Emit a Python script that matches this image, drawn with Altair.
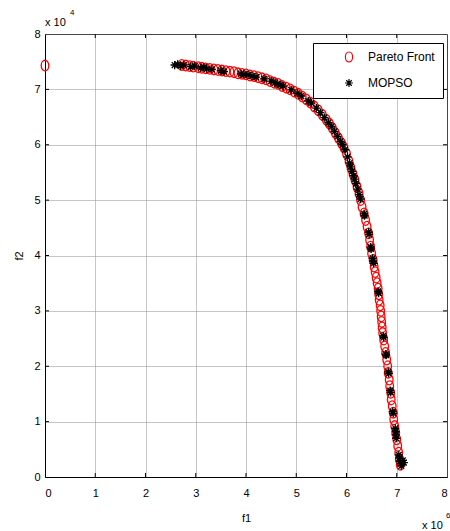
import altair as alt
import pandas as pd

# ---- data (f1 in units of 1e6, f2 in units of 1e4) ----
pf_f1 = [0.00,
         2.72, 2.80, 2.88, 2.95, 3.05, 3.12, 3.20, 3.28, 3.36, 3.44, 3.52, 3.60, 3.68, 3.76,
         3.84, 3.92, 4.00, 4.08, 4.16, 4.24, 4.32, 4.40, 4.48, 4.56, 4.64, 4.72, 4.80, 4.88,
         4.96, 5.04, 5.12, 5.20, 5.28, 5.36, 5.44, 5.52, 5.60, 5.66, 5.72, 5.78, 5.84, 5.90,
         5.95, 6.00, 6.05, 6.09, 6.13, 6.17, 6.21, 6.25,
         6.28, 6.31, 6.35, 6.38, 6.41, 6.44, 6.46, 6.48, 6.50, 6.53, 6.55, 6.57, 6.59, 6.61,
         6.63, 6.64, 6.65, 6.67, 6.68, 6.69, 6.70, 6.71, 6.72, 6.74, 6.76, 6.78, 6.80, 6.82,
         6.83, 6.85, 6.86, 6.88, 6.89, 6.91, 6.93, 6.94, 6.96, 6.98, 7.00, 7.02, 7.04, 7.05, 7.07]
pf_f2 = [7.43,
         7.44, 7.43, 7.42, 7.41, 7.40, 7.39, 7.38, 7.37, 7.36, 7.35, 7.34, 7.33, 7.32, 7.31,
         7.29, 7.28, 7.27, 7.25, 7.24, 7.22, 7.20, 7.18, 7.15, 7.12, 7.10, 7.06, 7.03, 7.00,
         6.96, 6.92, 6.87, 6.82, 6.76, 6.69, 6.62, 6.54, 6.45, 6.38, 6.30, 6.21, 6.12, 6.03,
         5.95, 5.84, 5.70, 5.58, 5.47, 5.36, 5.24, 5.12,
         5.00, 4.88, 4.76, 4.64, 4.52, 4.40, 4.28, 4.16, 4.04, 3.92, 3.80, 3.70, 3.60, 3.50,
         3.40, 3.30, 3.20, 3.10, 3.00, 2.90, 2.80, 2.70, 2.60, 2.48, 2.36, 2.24, 2.12, 2.00,
         1.88, 1.76, 1.64, 1.52, 1.40, 1.28, 1.16, 1.04, 0.92, 0.80, 0.68, 0.56, 0.44, 0.32, 0.22]

mo_f1 = [2.58, 2.64, 2.70, 2.76, 2.90, 2.98, 3.10, 3.16, 3.22, 3.32, 3.50, 3.56, 3.90, 3.96,
         4.04, 4.12, 4.20, 4.36, 4.50, 4.58, 4.62, 4.68, 4.74, 4.90, 5.02, 5.10, 5.24, 5.30,
         5.40, 5.48, 5.56, 5.64, 5.70, 5.76, 5.82, 5.88, 5.92, 5.97, 6.02, 6.06, 6.08, 6.11,
         6.14, 6.16, 6.19, 6.22, 6.25, 6.28,
         6.35, 6.36, 6.44, 6.45, 6.48, 6.49, 6.52, 6.53, 6.54, 6.63, 6.64, 6.73, 6.74, 6.78,
         6.79, 6.83, 6.84, 6.87, 6.88, 6.92, 6.93, 6.97, 6.98, 6.98, 6.99, 7.04, 7.05, 7.06,
         7.08, 7.09, 7.12, 7.14]
mo_f2 = [7.44, 7.45, 7.43, 7.44, 7.41, 7.42, 7.39, 7.40, 7.37, 7.36, 7.34, 7.32, 7.28, 7.27,
         7.26, 7.24, 7.22, 7.19, 7.15, 7.12, 7.10, 7.08, 7.06, 6.99, 6.93, 6.88, 6.79, 6.75,
         6.66, 6.58, 6.49, 6.40, 6.33, 6.24, 6.15, 6.06, 6.00, 5.91, 5.78, 5.67, 5.60, 5.52,
         5.44, 5.38, 5.30, 5.20, 5.10, 5.02,
         4.75, 4.72, 4.42, 4.38, 4.15, 4.12, 3.95, 3.90, 3.86, 3.35, 3.32, 2.55, 2.52, 2.22,
         2.20, 1.90, 1.87, 1.56, 1.53, 1.18, 1.15, 0.88, 0.82, 0.76, 0.70, 0.40, 0.34, 0.28,
         0.24, 0.20, 0.30, 0.26]

x_ticks = [0, 1, 2, 3, 4, 5, 6, 7, 8]
y_ticks = [0, 1, 2, 3, 4, 5, 6, 7, 8]
series_names = ["Pareto Front", "MOPSO"]
series_colors = ["#ff0000", "#000000"]

# ---- table ----
df = pd.concat([
    pd.DataFrame({"f1": pf_f1, "f2": pf_f2, "series": series_names[0], "z": 0}),
    pd.DataFrame({"f1": mo_f1, "f2": mo_f2, "series": series_names[1], "z": 1}),
], ignore_index=True)
df["z"] = df["z"] * 1000 + df.index

ELLIPSE = "M0,-1A0.72,1 0 1,1 0,1A0.72,1 0 1,1 0,-1Z"
STAR = "M-0.78,0L0.78,0M0,-0.78L0,0.78M-0.55,-0.55L0.55,0.55M-0.55,0.55L0.55,-0.55"

W, H = 402, 443
FONT = "Liberation Sans"

xs = alt.Scale(domain=[0, 8], nice=False, zero=False)
ys = alt.Scale(domain=[0, 8], nice=False, zero=False)

legend = alt.Legend(
    title=None, orient="none", legendX=268, legendY=9,
    strokeColor="black", fillColor="white", padding=8,
    symbolOffset=22, labelOffset=13, rowPadding=11,
    labelFont=FONT, labelFontSize=12, labelColor="black",
    symbolSize=100, symbolStrokeWidth=1.2, labelLimit=200,
)

points = alt.Chart(df).mark_point(filled=False, size=112, strokeWidth=1.3, opacity=1).encode(
    x=alt.X("f1:Q", scale=xs, axis=alt.Axis(values=x_ticks, title="f1", format="d")),
    y=alt.Y("f2:Q", scale=ys, axis=alt.Axis(values=y_ticks, title="f2", format="d")),
    color=alt.Color("series:N", scale=alt.Scale(domain=series_names, range=series_colors), legend=legend),
    shape=alt.Shape("series:N", scale=alt.Scale(domain=series_names, range=[ELLIPSE, STAR]), legend=legend),
    order=alt.Order("z:Q"),
)

xt = pd.DataFrame({"v": x_ticks[1:-1]})
yt = pd.DataFrame({"v": y_ticks[1:-1]})
tick_style = dict(color="black", strokeWidth=1)
ticks_bottom = alt.Chart(xt).mark_rule(**tick_style).encode(x=alt.X("v:Q", scale=xs), y=alt.value(H), y2=alt.value(H - 4))
ticks_top = alt.Chart(xt).mark_rule(**tick_style).encode(x=alt.X("v:Q", scale=xs), y=alt.value(0), y2=alt.value(4))
ticks_left = alt.Chart(yt).mark_rule(**tick_style).encode(y=alt.Y("v:Q", scale=ys), x=alt.value(0), x2=alt.value(4))
ticks_right = alt.Chart(yt).mark_rule(**tick_style).encode(y=alt.Y("v:Q", scale=ys), x=alt.value(W), x2=alt.value(W - 4))

one = pd.DataFrame({"t": ["x 10"]})
txt = dict(font=FONT, color="black")
mult_y = alt.Chart(one).mark_text(fontSize=11, align="left", baseline="middle", **txt).encode(
    text="t:N", x=alt.value(0), y=alt.value(-11))
exp_y = alt.Chart(pd.DataFrame({"t": ["4"]})).mark_text(fontSize=8, align="left", baseline="middle", **txt).encode(
    text="t:N", x=alt.value(25), y=alt.value(-21))
mult_x = alt.Chart(one).mark_text(fontSize=11, align="left", baseline="middle", **txt).encode(
    text="t:N", x=alt.value(377), y=alt.value(49 + H))
exp_x = alt.Chart(pd.DataFrame({"t": ["6"]})).mark_text(fontSize=8, align="left", baseline="middle", **txt).encode(
    text="t:N", x=alt.value(401), y=alt.value(39 + H))

chart = alt.layer(
    points, ticks_bottom, ticks_top, ticks_left, ticks_right, mult_y, exp_y, mult_x, exp_x
).properties(
    width=W, height=H,
    autosize=alt.AutoSizeParams(type="none"),
    padding={"left": 45, "top": 34, "right": 3, "bottom": 54},
    background="white",
).configure_view(
    stroke="black", strokeWidth=1
).configure_axis(
    grid=True, gridDash=[1, 1], gridColor="#8c8c8c", gridWidth=1,
    domainColor="black", domainWidth=1, ticks=False,
    labelFont=FONT, labelFontSize=11, labelColor="black",
    titleFont=FONT, titleFontSize=11, titleFontWeight="normal", titleColor="black",
).configure_axisX(
    labelPadding=10, titlePadding=14,
).configure_axisY(
    labelPadding=5, titlePadding=9,
)

chart.save("out.html", embed_options={"renderer": "svg", "actions": False})
